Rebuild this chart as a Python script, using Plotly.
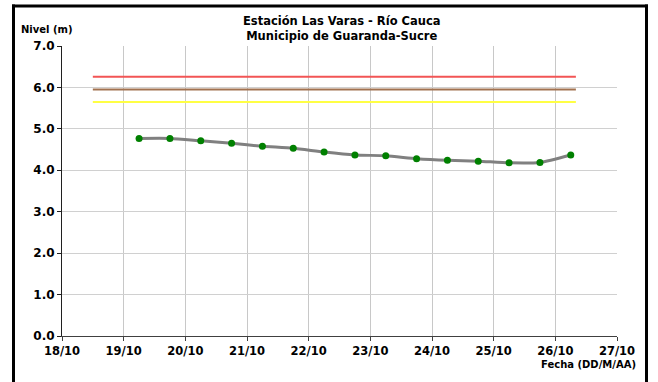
import plotly.graph_objects as go

# Data
fechas = ["2010-10-19 06:00", "2010-10-19 18:00", "2010-10-20 06:00", "2010-10-20 18:00",
          "2010-10-21 06:00", "2010-10-21 18:00", "2010-10-22 06:00", "2010-10-22 18:00",
          "2010-10-23 06:00", "2010-10-23 18:00", "2010-10-24 06:00", "2010-10-24 18:00",
          "2010-10-25 06:00", "2010-10-25 18:00", "2010-10-26 06:00"]
nivel = [4.77, 4.77, 4.71, 4.65, 4.58, 4.53, 4.44, 4.37, 4.35, 4.28, 4.24, 4.22, 4.18, 4.19, 4.37]

umbral_fechas = ["2010-10-18 12:00", "2010-10-26 08:00"]
umbral_rojo = 6.26
umbral_cafe = 5.95
umbral_amarillo = 5.65

titulo = "Estación Las Varas - Río Cauca<br>Municipio de Guaranda-Sucre"
y_label = "Nivel (m)"
x_label = "Fecha (DD/M/AA)"

FONT = "DejaVu Sans"
W, H = 658, 382
L, R, T, B = 62, 41, 46, 46

fig = go.Figure()
for val, col in [(umbral_rojo, "#f25555"), (umbral_cafe, "#a27250"), (umbral_amarillo, "#ffff44")]:
    fig.add_trace(go.Scatter(x=umbral_fechas, y=[val, val], mode="lines",
                             line=dict(color=col, width=2), hoverinfo="skip", showlegend=False))

fig.add_trace(go.Scatter(x=fechas, y=nivel, mode="lines+markers",
                         line=dict(color="#808080", width=3, shape="spline", smoothing=0.6),
                         marker=dict(color="#008000", size=7),
                         showlegend=False))

pw = W - L - R
ph = H - T - B

def px_x(p):
    return (p - L) / pw

def px_y(p):
    return 1 - (p - T) / ph

frame = dict(color="black", width=3)

fig.update_layout(
    width=W, height=H,
    margin=dict(l=L, r=R, t=T, b=B),
    paper_bgcolor="white", plot_bgcolor="white",
    font=dict(family=FONT, color="black"),
    xaxis=dict(type="date", range=["2010-10-18", "2010-10-27"], dtick=86400000,
               tickformat="%d/%m", showgrid=True, gridcolor="#c8c8c8", gridwidth=1,
               showline=True, linecolor="#404040", linewidth=1,
               ticks="outside", ticklen=4, tickcolor="#404040",
               tickfont=dict(family=FONT, size=11.5, color="black", weight="bold"),
               zeroline=False),
    yaxis=dict(range=[0, 7], dtick=1, tickformat=".1f", showgrid=True, gridcolor="#d0d0d0",
               gridwidth=1, showline=True, linecolor="#202020", linewidth=1,
               ticks="outside", ticklen=4, tickcolor="#202020",
               tickfont=dict(family=FONT, size=12, color="black", weight="bold"),
               zeroline=False),
    annotations=[
        dict(text="<b>" + titulo + "</b>", xref="paper", yref="paper",
             x=px_x(342), y=px_y(12), xanchor="center", yanchor="top", showarrow=False,
             font=dict(family=FONT, size=11.5, color="black")),
        dict(text="<b>" + y_label + "</b>", xref="paper", yref="paper",
             x=px_x(19), y=px_y(30), xanchor="left", yanchor="middle", showarrow=False,
             font=dict(family=FONT, size=10, color="black")),
        dict(text="<b>" + x_label + "</b>", xref="paper", yref="paper",
             x=px_x(638), y=px_y(364), xanchor="right", yanchor="middle", showarrow=False,
             font=dict(family=FONT, size=10, color="black")),
    ],
    shapes=[
        dict(type="line", xref="paper", yref="paper", x0=px_x(13.5), x1=px_x(13.5),
             y0=px_y(395), y1=px_y(4.5), line=frame, layer="above"),
        dict(type="line", xref="paper", yref="paper", x0=px_x(646.5), x1=px_x(646.5),
             y0=px_y(395), y1=px_y(4.5), line=frame, layer="above"),
        dict(type="line", xref="paper", yref="paper", x0=px_x(12), x1=px_x(648),
             y0=px_y(6), y1=px_y(6), line=frame, layer="above"),
    ],
)

fig.write_html("out.html", config={"displayModeBar": False},
               post_script="document.body.style.margin='0';document.body.style.overflow='hidden';")
